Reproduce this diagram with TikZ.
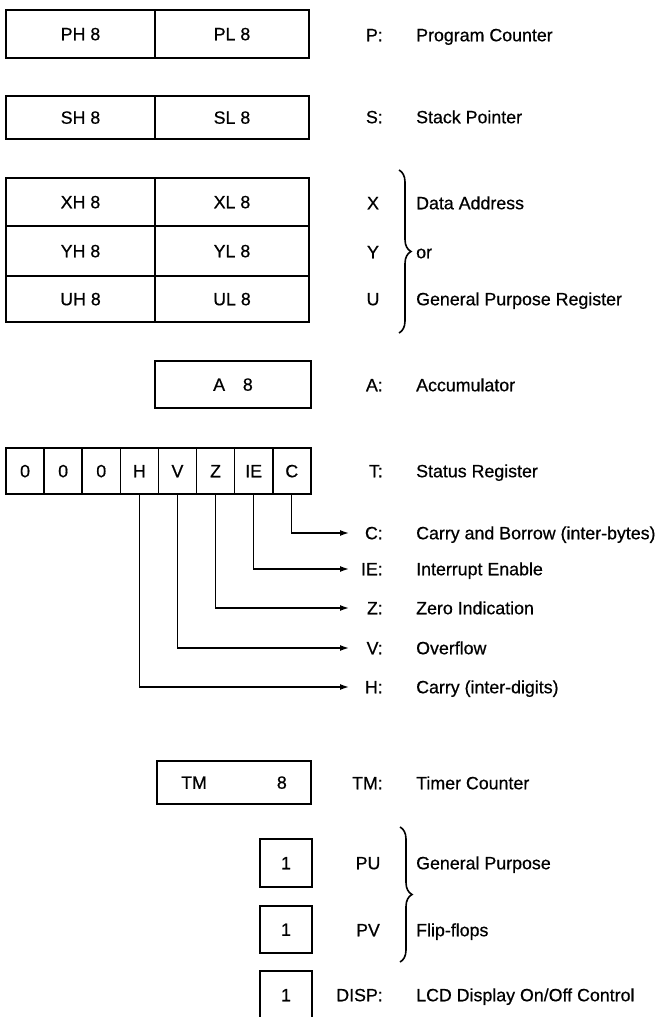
\documentclass[tikz,border=0pt]{standalone}
\usepackage{fontspec}
\setmainfont{Liberation Sans}
\newfontfamily\scanfont{Liberation Sans}[FakeBold=0.6]
\usetikzlibrary{arrows.meta,positioning,decorations.pathreplacing}

\begin{document}
\begin{tikzpicture}[
  x=1pt, y=-1pt,
  every node/.style={font=\scanfont\fontsize{17.8}{21}\selectfont, text height=12.5pt, text depth=0pt},
  reg/.style={rectangle, draw, line width=1.6pt, inner sep=0pt, outer sep=0pt, anchor=north west},
  bit/.style={reg, minimum width=38.1pt, minimum height=46pt},
  regtag/.style={anchor=east, inner sep=0pt},
  regname/.style={anchor=center, inner sep=0pt},
  desc/.style={anchor=west, inner sep=0pt},
  flag/.style={-{Latex[length=9pt, width=6pt]}, line width=1.4pt},
  group/.style={decorate, decoration={brace, amplitude=12pt}, line width=1.6pt}
  ]
  \useasboundingbox (0,0) rectangle (661,1017);

  % 16-bit registers
  \node[reg, minimum width=149pt, minimum height=48pt] (ph) at (6,10) {PH 8};
  \node[reg, minimum width=154pt, minimum height=48pt, right=0pt of ph] (pl) {PL 8};
  \node[reg, minimum width=149pt, minimum height=43pt] (sh) at (6,96) {SH 8};
  \node[reg, minimum width=154pt, minimum height=43pt, right=0pt of sh] (sl) {SL 8};

  \node[reg, minimum width=149pt, minimum height=48pt] (xh) at (6,178) {XH 8};
  \node[reg, minimum width=154pt, minimum height=48pt, right=0pt of xh] (xl) {XL 8};
  \node[reg, minimum width=149pt, minimum height=50pt, below=0pt of xh] (yh) {YH 8};
  \node[reg, minimum width=154pt, minimum height=50pt, right=0pt of yh] (yl) {YL 8};
  \node[reg, minimum width=149pt, minimum height=46pt, below=0pt of yh] (uh) {UH 8};
  \node[reg, minimum width=154pt, minimum height=46pt, right=0pt of uh] (ul) {UL 8};

  \node[reg, minimum width=156pt, minimum height=47pt] (acc) at (155,361) {A\quad 8};

  % status register
  \node[bit] (bz1) at (6,448) {0};
  \node[bit, right=0pt of bz1] (bz2) {0};
  \node[bit, right=0pt of bz2] (bz3) {0};
  \node[bit, right=0pt of bz3] (bH) {H};
  \node[bit, right=0pt of bH] (bV) {V};
  \node[bit, right=0pt of bV] (bZ) {Z};
  \node[bit, right=0pt of bZ] (bIE) {IE};
  \node[bit, right=0pt of bIE] (bC) {C};

  % timer and flip-flops
  \node[reg, minimum width=154pt, minimum height=43pt] (tm) at (157,761) {TM\hspace{70pt}8};
  \node[reg, minimum width=52pt, minimum height=48pt] (pu) at (260,839) {1};
  \node[reg, minimum width=52pt, minimum height=47pt] (pv) at (260,906) {1};
  \node[reg, minimum width=52pt, minimum height=48pt] (disp) at (260,971) {1};

  % names
  \node[regtag] (tP) at (383,35) {P:};
  \node[regtag] (tS) at (383,117) {S:};
  \node[regname] (tX) at (373,203) {X};
  \node[regname] (tY) at (373,252) {Y};
  \node[regname] (tU) at (373,299) {U};
  \node[regtag] (tA) at (383,385) {A:};
  \node[regtag] (tT) at (383,471) {T:};
  \node[regtag] (tC) at (383,533) {C:};
  \node[regtag] (tIE) at (383,569) {IE:};
  \node[regtag] (tZ) at (383,608) {Z:};
  \node[regtag] (tV) at (383,648) {V:};
  \node[regtag] (tH) at (383,687) {H:};
  \node[regtag] (tTM) at (383,783) {TM:};
  \node[regname] (tPU) at (368,863) {PU};
  \node[regname] (tPV) at (368,930) {PV};
  \node[regtag] (tDISP) at (383,995) {DISP:};

  % descriptions
  \node[desc] (dP) at (416,35) {Program Counter};
  \node[desc] (dS) at (416,117) {Stack Pointer};
  \node[desc] (dX) at (416,203) {Data Address};
  \node[desc] (dY) at (416,252) {or};
  \node[desc] (dU) at (416,299) {General Purpose Register};
  \node[desc] (dA) at (416,385) {Accumulator};
  \node[desc] (dT) at (416,471) {Status Register};
  \node[desc] (dC) at (416,533) {Carry and Borrow (inter-bytes)};
  \node[desc] (dIE) at (416,569) {Interrupt Enable};
  \node[desc] (dZ) at (416,608) {Zero Indication};
  \node[desc] (dV) at (416,648) {Overflow};
  \node[desc] (dH) at (416,687) {Carry (inter-digits)};
  \node[desc] (dTM) at (416,783) {Timer Counter};
  \node[desc] (dPU) at (416,863) {General Purpose};
  \node[desc] (dPV) at (416,930) {Flip-flops};
  \node[desc] (dDISP) at (416,995) {LCD Display On/Off Control};

  % flag arrows
  \coordinate (eC) at (349,533);
  \coordinate (eIE) at (349,569);
  \coordinate (eZ) at (349,608);
  \coordinate (eV) at (349,648);
  \coordinate (eH) at (349,687);
  \draw[flag] (bC.south) |- (eC);
  \draw[flag] (bIE.south) |- (eIE);
  \draw[flag] (bZ.south) |- (eZ);
  \draw[flag] (bV.south) |- (eV);
  \draw[flag] (bH.south) |- (eH);

  % braces
  \draw[group] (399,170) -- (399,333);
  \draw[group] (400,827) -- (400,962);
\end{tikzpicture}
\end{document}
